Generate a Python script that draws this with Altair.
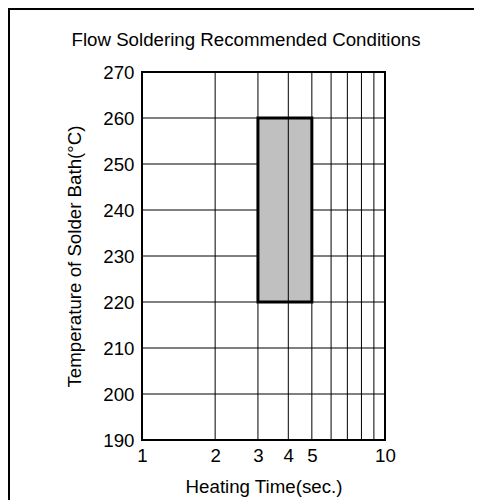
import altair as alt
import pandas as pd

# Data
x_ticks = [1, 2, 3, 4, 5, 10]
x_grid = [2, 3, 4, 5, 6, 7, 8, 9]
y_ticks = [190, 200, 210, 220, 230, 240, 250, 260, 270]
y_grid = [200, 210, 220, 230, 240, 250, 260]
region_time = [3, 5]
region_temp = [220, 260]
title_text = ["Flow Soldering Recommended Conditions"]

FONT = "Liberation Sans"
FS = 18.7

xscale = alt.Scale(type="log", domain=[1, 10])
yscale = alt.Scale(domain=[190, 270])

region_df = pd.DataFrame({"t1": [region_time[0]], "t2": [region_time[1]],
                          "c1": [region_temp[0]], "c2": [region_temp[1]]})
xg_df = pd.DataFrame({"x": x_grid})
yg_df = pd.DataFrame({"y": y_grid})
title_df = pd.DataFrame({"txt": title_text})

xaxis = alt.Axis(values=x_ticks, grid=False, ticks=False, domain=False,
                 labelFlush=False, labelPadding=6, labelFontSize=FS,
                 labelFont=FONT, labelColor="black",
                 title="Heating Time(sec.)", titleFontSize=FS, titleFont=FONT,
                 titleFontWeight="normal", titleColor="black", titlePadding=13)
yaxis = alt.Axis(values=y_ticks, grid=False, ticks=False, domain=False,
                 labelPadding=8, labelFontSize=FS, labelFont=FONT,
                 labelColor="black",
                 title="Temperature of Solder Bath(°C)", titleFontSize=FS,
                 titleFont=FONT, titleFontWeight="normal", titleColor="black",
                 titlePadding=18)

hgrid = alt.Chart(yg_df).mark_rule(color="black", strokeWidth=1).encode(
    y=alt.Y("y:Q", scale=yscale, axis=yaxis))

region = alt.Chart(region_df).mark_rect(fill="#c0c0c0", stroke="black", strokeWidth=3).encode(
    x=alt.X("t1:Q", scale=xscale, axis=xaxis), x2="t2:Q",
    y=alt.Y("c1:Q", scale=yscale, axis=yaxis), y2="c2:Q")

vgrid = alt.Chart(xg_df).mark_rule(color="black", strokeWidth=1).encode(
    x=alt.X("x:Q", scale=xscale, axis=xaxis))

# outer frame: only top and left edges are visible in the reference
border_top = alt.Chart(region_df).mark_rule(color="black", strokeWidth=2).encode(
    x=alt.value(-134), x2=alt.value(340), y=alt.value(-63))
border_left = alt.Chart(region_df).mark_rule(color="black", strokeWidth=2).encode(
    x=alt.value(-133), y=alt.value(-64), y2=alt.value(440))

title = alt.Chart(title_df).mark_text(font=FONT, fontSize=FS, color="black",
                                      align="center", baseline="alphabetic").encode(
    text="txt:N", x=alt.value(104), y=alt.value(-26))

chart = alt.layer(hgrid, region, vgrid, border_top, border_left, title).properties(
    width=243, height=368,
    autosize=alt.AutoSizeParams(type="none"),
    padding={"left": 134, "top": 64, "right": 89, "bottom": 60},
).configure_view(stroke="black", strokeWidth=2)

chart.save("out.html", embed_options={"renderer": "svg", "actions": False})
